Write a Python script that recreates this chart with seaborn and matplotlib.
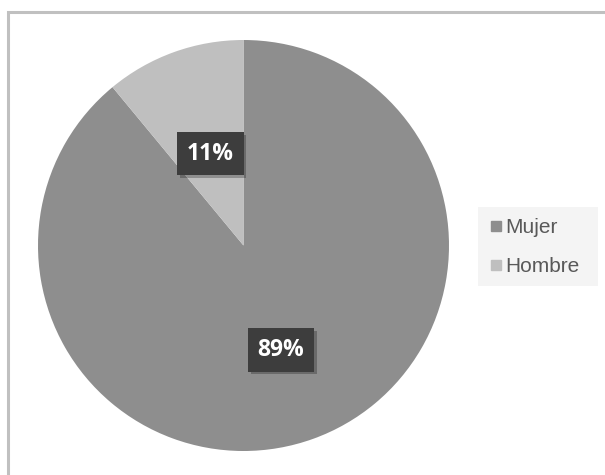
import matplotlib
matplotlib.use("Agg")
import matplotlib.pyplot as plt
import seaborn as sns
import numpy as np
from matplotlib.lines import Line2D
from matplotlib.patches import Rectangle
import matplotlib.patheffects as pe

categories = ["Mujer", "Hombre"]
values = [89, 11]
colors = ["#8e8e8e", "#bfbfbf"]

sns.set_theme(style="white")
plt.rcParams['font.family'] = ['Liberation Sans', 'DejaVu Sans']

W, H = 605, 475
fig = plt.figure(figsize=(W / 100, H / 100), dpi=100)
fig.patch.set_facecolor("white")

# outer border (only top/left visible in reference)
fig.patches.append(Rectangle((7.5 / W, -0.2), 1.3, 1.2 - 11.5 / H,
                             transform=fig.transFigure, fill=False,
                             edgecolor="#c0c0c0", linewidth=2.2, zorder=0))
# legend background
fig.patches.append(Rectangle((478 / W, 1 - 286 / H), 120 / W, 79 / H,
                             transform=fig.transFigure, facecolor="#f4f4f4",
                             edgecolor="none", zorder=0))

cx, cy, r = 243.5, 245.5, 205.5
ax = fig.add_axes([(cx - r) / W, 1 - (cy + r) / H, 2 * r / W, 2 * r / H])
wedges, texts, autotexts = ax.pie(
    values, colors=colors, startangle=90, counterclock=False,
    autopct=lambda p: f"{p:.0f}%", pctdistance=0.5,
    wedgeprops=dict(linewidth=0),
    textprops=dict(color="white", fontsize=16.5, fontweight="bold",
                   family=["Open Sans", "DejaVu Sans"]))
label_dist = [0.54, 0.475]
for w, t, d in zip(wedges, autotexts, label_dist):
    ang = np.deg2rad((w.theta1 + w.theta2) / 2)
    t.set_position((d * np.cos(ang), d * np.sin(ang)))
    t.set_bbox(dict(boxstyle="square,pad=0.42", facecolor="#3d3d3d",
                    edgecolor="none"))
    t.get_bbox_patch().set_path_effects([
        pe.SimplePatchShadow(offset=(2, -2), shadow_rgbFace="#000000", alpha=0.25),
        pe.Normal()])
ax.set_xlim(-1, 1)
ax.set_ylim(-1, 1)
ax.set_aspect("equal")
ax.axis("off")

handles = [Line2D([0], [0], marker="s", linestyle="none", markersize=7.5,
                  markerfacecolor=c, markeredgecolor=c) for c in colors]
leg = fig.legend(handles, categories, loc="center left",
                 bbox_to_anchor=(491 / W, 1 - 247 / H), frameon=False,
                 fontsize=15, handlelength=0.5, handletextpad=0.2,
                 labelspacing=0.97, borderpad=0, labelcolor="#595959",
                 borderaxespad=0)

fig.savefig("out.png", dpi=100, facecolor="white")
